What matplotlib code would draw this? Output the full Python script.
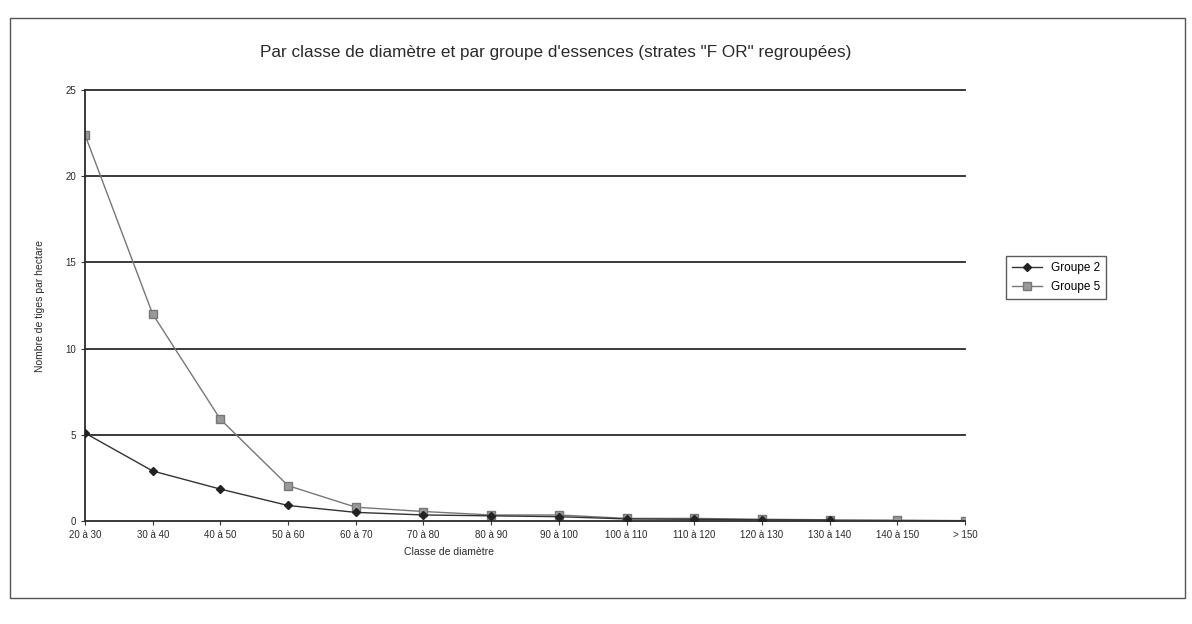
import matplotlib.pyplot as plt
from matplotlib.patches import Rectangle
import numpy as np

classes = ["20 à 30", "30 à 40", "40 à 50", "50 à 60", "60 à 70", "70 à 80",
           "80 à 90", "90 à 100", "100 à 110", "110 à 120", "120 à 130",
           "130 à 140", "140 à 150", "> 150"]
groupe_2 = [5.1, 2.9, 1.85, 0.9, 0.5, 0.35, 0.3, 0.25, 0.12, 0.1, 0.07, 0.05, np.nan, np.nan]
groupe_5 = [22.4, 12.0, 5.9, 2.05, 0.8, 0.55, 0.35, 0.35, 0.15, 0.15, 0.1, 0.07, 0.05, 0.02]
y_ticks = [0, 5, 10, 15, 20, 25]

plt.rcParams['font.family'] = ['Liberation Sans', 'DejaVu Sans']

fig = plt.figure(figsize=(11.92, 6.24), dpi=100)
fig.patch.set_facecolor('white')
fig.patches.append(Rectangle((10 / 1192, 1 - 598 / 624), 1175 / 1192, 580 / 624,
                             transform=fig.transFigure, fill=False,
                             edgecolor='#555555', linewidth=1.0))

ax = fig.add_axes([85 / 1192, 1 - 521 / 624, 880 / 1192, 431 / 624])
x = np.arange(len(classes))

for yv in y_ticks[1:]:
    ax.axhline(yv, color='#2a2a2a', linewidth=1.3, zorder=1, clip_on=False)

ax.plot(x, groupe_2, color='#333333', linewidth=1.0, marker='D', markersize=4,
        markerfacecolor='#222222', markeredgecolor='#222222', label='Groupe 2', zorder=3)
ax.plot(x, groupe_5, color='#777777', linewidth=1.0, marker='s', markersize=6,
        markerfacecolor='#999999', markeredgecolor='#777777', label='Groupe 5', zorder=2)

ax.set_xlim(0, len(classes) - 1)
ax.set_ylim(0, 25)
ax.set_xticks(x)
ax.set_xticklabels(classes, fontsize=7, color='#2a2a2a')
ax.set_yticks(y_ticks)
ax.set_yticklabels([str(v) for v in y_ticks], fontsize=7, color='#2a2a2a')
ax.tick_params(axis='both', direction='out', length=3, color='#333333')
for s in ['top', 'right']:
    ax.spines[s].set_visible(False)
for s in ['left', 'bottom']:
    ax.spines[s].set_color('#2a2a2a')
    ax.spines[s].set_linewidth(1.3)

ax.set_xlabel("Classe de diamètre", fontsize=7.5, color='#2a2a2a', labelpad=1)
ax.xaxis.set_label_coords(0.414, -0.06)
ax.set_ylabel("Nombre de tiges par hectare", fontsize=7.5, color='#2a2a2a')
ax.yaxis.set_label_coords(-0.045, 0.5)

fig.text(0.466, 1 - 52 / 624,
         "Par classe de diamètre et par groupe d'essences (strates \"F OR\" regroupées)",
         ha='center', va='center', fontsize=12.3, color='#2a2a2a')

leg = ax.legend(loc='center left', bbox_to_anchor=(1.040, 0.564), fontsize=8.5,
                frameon=True, fancybox=False, borderpad=0.5, handlelength=2.5,
                labelspacing=0.6)
leg.get_frame().set_edgecolor('#333333')
leg.get_frame().set_linewidth(1.0)

fig.savefig('out.png', dpi=100, facecolor='white')
